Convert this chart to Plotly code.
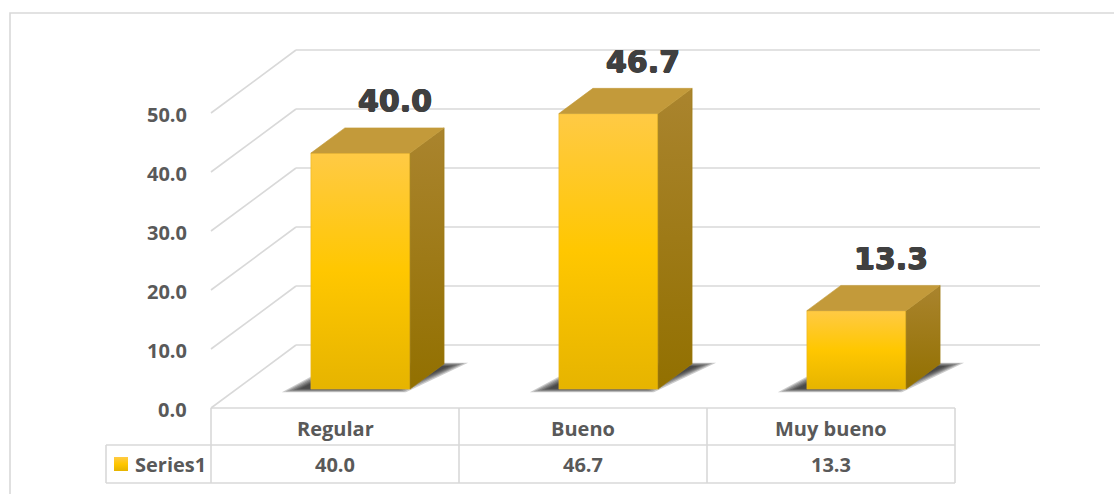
import plotly.graph_objects as go

# ---- data -------------------------------------------------------------
categories = ["Regular", "Bueno", "Muy bueno"]
values = [40.0, 46.7, 13.3]
series_name = "Series1"
tick_values = [0, 10, 20, 30, 40, 50]
tick_labels = ["0.0", "10.0", "20.0", "30.0", "40.0", "50.0"]

# ---- geometry of the oblique 3-D frame ----------------------------------
W, H = 1114, 494
PX_CAT = 248.0      # pixels per category slot
PX_VAL = 5.9        # pixels per value unit
ORIGIN_X = 211.0    # front-left corner of the floor (pixels)
ORIGIN_Y = 408.0
DEPTH_PX_X = 85.0   # floor depth direction in pixels
DEPTH_PX_Y = 63.0
DX = DEPTH_PX_X / PX_CAT
DY = DEPTH_PX_Y / PX_VAL

X_RANGE = [-ORIGIN_X / PX_CAT, (W - ORIGIN_X) / PX_CAT]
Y_RANGE = [(ORIGIN_Y - H) / PX_VAL, ORIGIN_Y / PX_VAL]

BAR_HALF = 0.2
Z_FRONT, Z_BACK = 0.3, 0.7
ROW1 = -37 / PX_VAL     # header row bottom
ROW2 = -75 / PX_VAL     # value row bottom
KEY_LEFT = -105 / PX_CAT

GRID = "#D9D9D9"
TEXT = "#595959"
LABEL = "#404040"


def proj(c, z, v):
    """Category position c, depth z (0 front .. 1 back), value v -> axis coords."""
    return c + z * DX, v + z * DY


def poly(points):
    xs, ys = [], []
    for c, z, v in points + [points[0]]:
        x, y = proj(c, z, v)
        xs.append(x)
        ys.append(y)
    return xs, ys


fig = go.Figure()

# ---- walls: back gridlines and side-wall diagonals ------------------------
gx, gy = [], []
for v in tick_values:
    for a, b in ((proj(0, 1, v), proj(3, 1, v)), (proj(0, 0, v), proj(0, 1, v))):
        gx += [a[0], b[0], None]
        gy += [a[1], b[1], None]
fig.add_trace(go.Scatter(x=gx, y=gy, mode="lines",
                         line=dict(color=GRID, width=1.6), hoverinfo="skip"))

# ---- data table grid ------------------------------------------------------
tx, ty = [], []
segments = [
    ((0, 0), (3, 0)),
    ((KEY_LEFT, ROW1), (3, ROW1)),
    ((KEY_LEFT, ROW2), (3, ROW2)),
    ((KEY_LEFT, ROW1), (KEY_LEFT, ROW2)),
]
for k in range(len(categories) + 1):
    segments.append(((k, 0), (k, ROW2)))
for (x0, y0), (x1, y1) in segments:
    tx += [x0, x1, None]
    ty += [y0, y1, None]
fig.add_trace(go.Scatter(x=tx, y=ty, mode="lines",
                         line=dict(color=GRID, width=1.6), hoverinfo="skip"))

# ---- bars -------------------------------------------------------------------
front_scale = [[0, "#E6B400"], [0.5, "#FFC700"], [1, "#FFCA45"]]
side_scale = [[0, "#927000"], [1, "#AA842E"]]
top_color = "#C39A3A"

for i, v in enumerate(values):
    cl, cr = i + 0.5 - BAR_HALF, i + 0.5 + BAR_HALF

    # soft floor shadow, built up from layered translucent polygons
    for k in range(6):
        t = k * 0.011
        sx, sy = poly([
            (cl - 0.10 + t, Z_FRONT - 0.05 + t, 0),
            (cr + 0.0 - t, Z_FRONT - 0.05 + t, 0),
            (cr + 0.09 - t, Z_BACK + 0.02 - t, 0),
            (cl - 0.04 + t, Z_BACK + 0.02 - t, 0),
        ])
        fig.add_trace(go.Scatter(x=sx, y=sy, mode="lines", fill="toself",
                                 fillcolor="rgba(25,25,25,0.22)",
                                 line=dict(width=0), hoverinfo="skip"))

    fx, fy = poly([(cl, Z_FRONT, 0), (cr, Z_FRONT, 0), (cr, Z_FRONT, v), (cl, Z_FRONT, v)])
    fig.add_trace(go.Scatter(x=fx, y=fy, mode="lines", fill="toself",
                             fillgradient=dict(type="vertical", colorscale=front_scale),
                             line=dict(width=0.6, color="#E8B520"), hoverinfo="skip"))

    sx, sy = poly([(cr, Z_FRONT, 0), (cr, Z_BACK, 0), (cr, Z_BACK, v), (cr, Z_FRONT, v)])
    fig.add_trace(go.Scatter(x=sx, y=sy, mode="lines", fill="toself",
                             fillgradient=dict(type="vertical", colorscale=side_scale),
                             line=dict(width=0.6, color="#9C7A10"), hoverinfo="skip"))

    ux, uy = poly([(cl, Z_FRONT, v), (cr, Z_FRONT, v), (cr, Z_BACK, v), (cl, Z_BACK, v)])
    fig.add_trace(go.Scatter(x=ux, y=uy, mode="lines", fill="toself",
                             fillcolor=top_color,
                             line=dict(width=0.6, color=top_color), hoverinfo="skip"))

# ---- legend key in the table ----------------------------------------------
kx0, kx1 = KEY_LEFT + 8 / PX_CAT, KEY_LEFT + 22 / PX_CAT
ky0, ky1 = ROW1 - 12 / PX_VAL, ROW1 - 26 / PX_VAL
fig.add_trace(go.Scatter(x=[kx0, kx1, kx1, kx0, kx0], y=[ky0, ky0, ky1, ky1, ky0],
                         mode="lines", fill="toself",
                         fillgradient=dict(type="vertical", colorscale=front_scale),
                         line=dict(width=0), hoverinfo="skip"))

annotations = []
tick_font = dict(family="Open Sans", size=20, color=TEXT, weight="bold")
heavy = ("0.7px 0 0 {c}, -0.7px 0 0 {c}, 0 0.5px 0 {c}, 0 -0.5px 0 {c}").format(c=LABEL)

for v, lab in zip(tick_values, tick_labels):
    annotations.append(dict(x=-22 / PX_CAT, y=v, text=lab, showarrow=False,
                            xanchor="right", yanchor="middle", yshift=-1, font=tick_font))

for i, (cat, v) in enumerate(zip(categories, values)):
    annotations.append(dict(x=i + 0.5, y=ROW1 / 2, text=cat, showarrow=False,
                            xanchor="center", yanchor="middle", yshift=-2, font=tick_font))
    annotations.append(dict(x=i + 0.5, y=(ROW1 + ROW2) / 2, text=f"{v:.1f}", showarrow=False,
                            xanchor="center", yanchor="middle", font=tick_font))
    lx, ly = proj(i + 0.5, Z_BACK, v)
    annotations.append(dict(x=lx, y=ly, text=f"{v:.1f}", showarrow=False,
                            xanchor="center", yanchor="middle", yshift=27,
                            font=dict(family="DejaVu Sans", size=30, color=LABEL,
                                      weight="bold", shadow=heavy)))

annotations.append(dict(x=kx1 + 5 / PX_CAT, y=(ROW1 + ROW2) / 2, text=series_name,
                        showarrow=False, xanchor="left", yanchor="middle", font=tick_font))

fig.update_layout(
    width=W, height=H, autosize=False,
    margin=dict(l=0, r=0, t=0, b=0),
    paper_bgcolor="white", plot_bgcolor="white",
    showlegend=False,
    xaxis=dict(range=X_RANGE, visible=False, fixedrange=True),
    yaxis=dict(range=Y_RANGE, visible=False, fixedrange=True),
    annotations=annotations,
    shapes=[dict(type="rect", xref="paper", yref="paper",
                 x0=10 / W, x1=1.05, y0=-0.05, y1=1 - 13 / H,
                 line=dict(color=GRID, width=1.6), layer="below")],
)

fig.write_html("out.html", config={"displayModeBar": False})
